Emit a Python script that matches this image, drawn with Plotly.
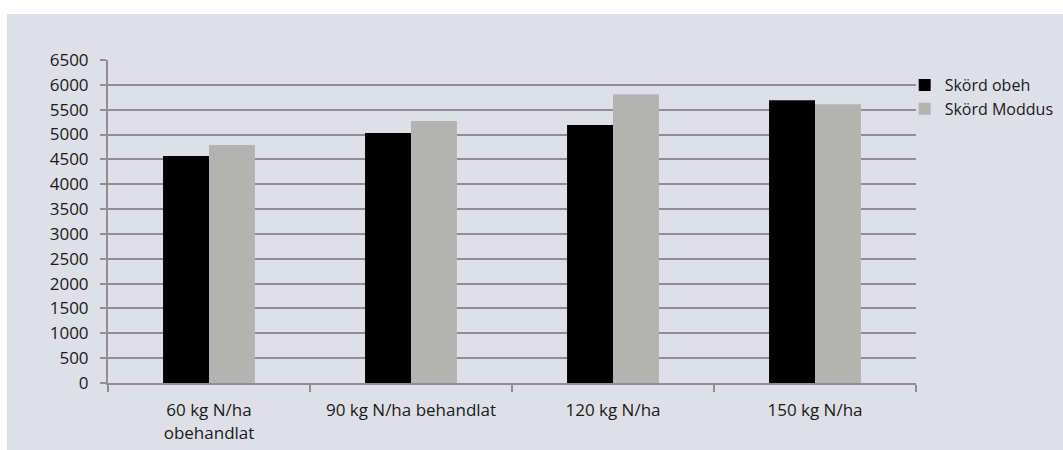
import plotly.graph_objects as go

categories = ["60 kg N/ha<br>obehandlat", "90 kg N/ha behandlat", "120 kg N/ha", "150 kg N/ha"]
skord_obeh = [4570, 5030, 5190, 5690]
skord_moddus = [4790, 5270, 5810, 5610]
y_ticks = list(range(0, 6501, 500))

BG = "#dedfe7"
GRID = "#8f8f8f"
FONT = "Open Sans"

fig = go.Figure()
fig.add_trace(go.Bar(name="Skörd obeh", x=categories, y=skord_obeh,
                     marker=dict(color="#000000", line=dict(width=0))))
fig.add_trace(go.Bar(name="Skörd Moddus", x=categories, y=skord_moddus,
                     marker=dict(color="#b3b4b2", line=dict(width=0))))

fig.add_shape(type="rect", xref="paper", yref="paper",
              x0=-0.125, x1=1.2, y0=-0.25, y1=1.1424,
              fillcolor=BG, line=dict(width=0), layer="below")

fig.update_layout(
    width=1063, height=450,
    margin=dict(l=108, r=147, t=60, b=67, autoexpand=False),
    paper_bgcolor="white", plot_bgcolor=BG,
    barmode="group", bargap=0.545, bargroupgap=0,
    font=dict(family=FONT, size=17, color="#1a1a1a"),
    showlegend=True,
    legend=dict(x=0.986, y=0.975, xanchor="left", yanchor="top",
                bgcolor="rgba(0,0,0,0)", font=dict(size=16),
                tracegroupgap=0, itemwidth=30),
    xaxis=dict(showgrid=False, showline=True, linecolor=GRID, linewidth=2,
               ticks="outside", tickson="boundaries", ticklen=7, tickcolor=GRID,
               tickwidth=2, tickfont=dict(size=17), ticklabelstandoff=11),
    yaxis=dict(range=[0, 6500], tickvals=y_ticks, showgrid=True, gridcolor=GRID,
               gridwidth=2, showline=True, linecolor=GRID, linewidth=2,
               ticks="outside", ticklen=6, tickcolor=GRID, tickwidth=2,
               zeroline=False, ticklabelstandoff=8, tickfont=dict(size=17)),
)

fig.write_html("out.html")
